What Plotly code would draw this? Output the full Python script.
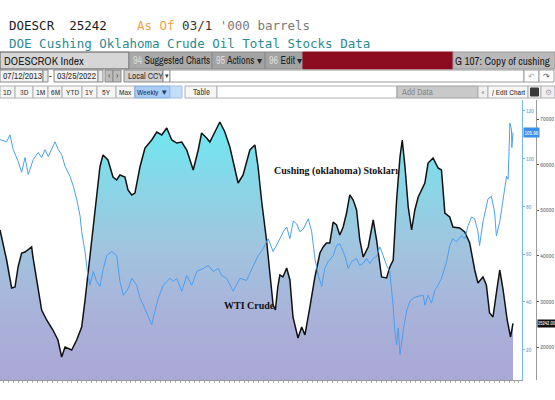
import plotly.graph_objects as go

# ---------------- data ----------------
stock_dates = [
    "2013-07-12", "2013-08-22", "2013-09-22", "2013-10-13", "2013-11-01", "2013-11-23", "2013-12-14",
    "2014-01-24", "2014-02-01", "2014-02-24", "2014-03-27", "2014-04-27", "2014-06-05", "2014-07-06",
    "2014-07-29", "2014-08-19", "2014-09-06", "2014-09-29", "2014-10-30", "2014-11-30", "2014-12-21",
    "2015-01-20", "2015-03-02", "2015-03-23", "2015-04-11", "2015-05-12", "2015-06-12", "2015-07-05",
    "2015-07-25", "2015-08-25", "2015-09-13", "2015-10-06", "2015-10-26", "2015-11-26", "2015-12-27",
    "2016-02-07", "2016-03-09", "2016-04-09", "2016-05-10", "2016-06-10", "2016-07-11", "2016-08-11",
    "2016-09-11", "2016-10-21", "2016-11-21", "2016-12-12", "2017-01-12", "2017-02-01", "2017-03-04",
    "2017-04-04", "2017-05-05", "2017-06-05", "2017-07-26", "2017-08-26", "2017-10-07", "2017-11-07",
    "2017-11-27", "2017-12-18", "2018-01-18", "2018-02-07", "2018-02-28", "2018-03-14", "2018-03-29",
    "2018-04-11", "2018-04-30", "2018-05-23", "2018-06-12", "2018-07-01", "2018-08-01", "2018-08-24",
    "2018-09-13", "2018-10-14", "2018-11-14", "2018-12-15", "2019-01-04", "2019-01-25", "2019-02-14",
    "2019-03-07", "2019-03-28", "2019-04-17", "2019-05-08", "2019-05-29", "2019-06-18", "2019-07-09",
    "2019-07-30", "2019-08-19", "2019-09-09", "2019-10-10", "2019-11-10", "2019-12-01", "2020-01-01",
    "2020-02-01", "2020-02-21", "2020-03-13", "2020-04-03", "2020-04-24", "2020-05-08", "2020-05-25",
    "2020-06-14", "2020-07-05", "2020-07-25", "2020-08-15", "2020-09-05", "2020-09-25", "2020-10-15",
    "2020-11-15", "2020-12-16", "2021-01-06", "2021-01-27", "2021-02-26", "2021-03-18", "2021-04-29",
    "2021-05-30", "2021-06-30", "2021-07-31", "2021-08-20", "2021-09-20", "2021-10-11", "2021-10-31",
    "2021-11-21", "2021-12-12", "2022-01-02", "2022-01-23", "2022-02-17", "2022-03-10", "2022-03-25",
]
stock_values = [
    45690, 39120, 32990, 33210, 37590, 40650, 40870,
    41970, 39780, 34740, 28170, 25980, 23790, 21600,
    17880, 20070, 19850, 19410, 21600, 24450, 30360,
    39780, 52260, 59490, 62120, 61020, 57300, 56640,
    57740, 57300, 54450, 53360, 53790, 59490, 63650,
    65400, 67150, 66500, 68030, 65400, 64740, 64960,
    63210, 58830, 63210, 66930, 65840, 64960, 67150,
    69340, 67150, 63870, 55980, 57740, 63210, 64310,
    59490, 52260, 43500, 36270, 29270, 28170, 33210,
    35840, 35400, 37370, 34740, 26640, 22040, 24450,
    22700, 28830, 35400, 40650, 41970, 42840, 42840,
    47440, 46790, 44600, 46350, 49410, 53360, 52260,
    50070, 43500, 39780, 41970, 47880, 43500, 35400,
    35180, 37590, 39120, 52260, 61680, 65400, 59490,
    50730, 45690, 50070, 52920, 54450, 55980, 60360,
    61460, 59270, 58830, 49410, 48540, 46350, 46130,
    45250, 42840, 36930, 34080, 35400, 33650, 27520,
    26640, 31890, 36930, 32550, 25980, 22260, 25242,
]

wti_dates = [
    "2013-07-12", "2013-08-22", "2013-09-12", "2013-10-02", "2013-11-02", "2013-11-23", "2013-12-14",
    "2014-01-03", "2014-02-03", "2014-03-06", "2014-03-27", "2014-04-17", "2014-05-07", "2014-06-07",
    "2014-06-18", "2014-07-08", "2014-07-29", "2014-08-19", "2014-09-19", "2014-10-09", "2014-10-30",
    "2014-11-20", "2014-11-30", "2014-12-21", "2015-01-04", "2015-01-20", "2015-02-10", "2015-03-02",
    "2015-03-23", "2015-04-13", "2015-05-04", "2015-06-04", "2015-07-05", "2015-07-25", "2015-08-15",
    "2015-09-15", "2015-10-06", "2015-11-06", "2015-11-26", "2015-12-17", "2016-01-17", "2016-02-07",
    "2016-02-27", "2016-03-19", "2016-04-19", "2016-05-30", "2016-06-20", "2016-07-11", "2016-08-11",
    "2016-09-11", "2016-10-12", "2016-11-12", "2016-12-22", "2017-01-22", "2017-02-22", "2017-03-25",
    "2017-04-15", "2017-05-16", "2017-06-26", "2017-08-06", "2017-09-16", "2017-10-27", "2017-11-27",
    "2017-12-28", "2018-01-28", "2018-02-28", "2018-03-21", "2018-04-11", "2018-05-02", "2018-05-23",
    "2018-06-12", "2018-07-03", "2018-07-24", "2018-08-13", "2018-09-03", "2018-10-04", "2018-10-25",
    "2018-11-14", "2018-12-05", "2018-12-26", "2019-01-14", "2019-02-04", "2019-03-07", "2019-03-28",
    "2019-04-17", "2019-05-18", "2019-06-08", "2019-06-29", "2019-07-30", "2019-08-19", "2019-09-09",
    "2019-09-30", "2019-10-20", "2019-11-10", "2019-12-01", "2019-12-21", "2020-01-11", "2020-02-01",
    "2020-02-21", "2020-03-02", "2020-03-12", "2020-03-23", "2020-04-03", "2020-04-13", "2020-04-24",
    "2020-05-14", "2020-06-04", "2020-06-25", "2020-07-15", "2020-08-15", "2020-09-15", "2020-09-25",
    "2020-10-15", "2020-11-05", "2020-11-26", "2020-12-16", "2021-01-06", "2021-02-07", "2021-02-26",
    "2021-03-18", "2021-04-08", "2021-05-09", "2021-05-30", "2021-06-20", "2021-07-11", "2021-07-31",
    "2021-08-20", "2021-08-30", "2021-09-20", "2021-10-21", "2021-11-11", "2021-12-01", "2021-12-12",
    "2022-01-02", "2022-01-23", "2022-02-13", "2022-02-23", "2022-03-06", "2022-03-16", "2022-03-18",
    "2022-03-25",
]
wti_values = [
    108.0, 107.1, 110.0, 103.8, 98.8, 94.3, 100.5,
    93.4, 99.7, 102.6, 100.5, 103.8, 100.9, 105.9,
    107.1, 103.8, 101.7, 96.8, 92.6, 88.5, 83.1,
    76.0, 69.4, 61.1, 52.8, 47.0, 52.8, 48.6,
    46.5, 54.0, 59.4, 61.1, 59.4, 48.6, 42.8,
    45.7, 49.9, 47.0, 41.6, 38.7, 33.3, 30.4,
    36.2, 41.6, 47.0, 49.9, 48.6, 49.9, 44.5,
    51.1, 47.0, 52.8, 54.0, 55.3, 52.8, 54.0,
    51.1, 49.9, 44.5, 49.9, 49.0, 55.3, 59.4,
    62.3, 66.5, 61.1, 63.6, 66.5, 69.4, 71.4,
    66.5, 73.9, 72.7, 69.4, 70.6, 74.8, 69.4,
    58.2, 51.1, 46.5, 54.0, 56.9, 59.4, 63.6,
    64.4, 59.4, 54.0, 56.9, 58.2, 55.3, 56.1,
    58.2, 56.1, 58.2, 59.0, 63.1, 59.4, 55.3,
    52.8, 47.0, 38.7, 27.9, 22.1, 29.1, 17.9,
    27.9, 36.2, 40.3, 41.6, 42.4, 42.8, 38.7,
    42.8, 39.5, 44.9, 47.0, 49.9, 56.9, 63.6,
    66.5, 65.2, 67.7, 66.5, 71.9, 75.6, 74.8,
    69.4, 63.6, 73.5, 83.1, 84.3, 77.7, 67.7,
    73.5, 83.1, 92.6, 91.4, 115.0, 112.1, 104.7,
    111.0,
]

stock_ticks = [20000, 30000, 40000, 50000, 60000, 70000]
wti_ticks = [20, 40, 60, 80, 100, 120]
stock_last_label = "25242.00"
wti_last_label = "105.96"

# ---------------- layout helpers (pixel -> paper) ----------------
W, H = 555, 400


def px(x):
    return x / W


def py(y):
    return 1 - y / H


shapes = []
annots = []
NARROW = "Archivo Narrow, Asap Condensed, Liberation Sans, sans-serif"


def rect(x0, y0, x1, y1, fill, line="#8a8a8a", lw=1):
    shapes.append(dict(type="rect", xref="paper", yref="paper",
                       x0=px(x0), x1=px(x1), y0=py(y1), y1=py(y0),
                       fillcolor=fill, line=dict(color=line, width=lw), layer="above"))


def label(x, y, s, size=9, color="#222", anchor="left", family=NARROW):
    annots.append(dict(xref="paper", yref="paper", x=px(x), y=py(y), text=s,
                       showarrow=False, xanchor=anchor, yanchor="middle",
                       font=dict(size=size, color=color, family=family)))


mono = "DejaVu Sans Mono, Liberation Mono, monospace"
label(7, 26, "DOESCR  25242    <span style='color:#f2a24a'>As Of</span> "
      "<span style='color:#333333'>03/1</span> <span style='color:#7a7a7a'>'000 barrels</span>",
      size=12.5, color="#1a1a1a", family=mono)
label(7, 43, "DOE Cushing Oklahoma Crude Oil Total Stocks Data", size=12.5, color="#2b8a90", family=mono)

# toolbar row 1
rect(0, 52, 129, 69, "#d6d6d6", "#555555")
label(2, 60.5, "DOESCROK Index", size=11.5)
rect(129, 52, 212, 69, "#a9a9a9", "#8a8a8a")
label(131, 60.5, "<span style='color:#dcdcdc'>94</span> Suggested Charts", size=10)
rect(212, 52, 265, 69, "#a3a3a3", "#8a8a8a")
label(214, 60.5, "<span style='color:#dcdcdc'>95</span> Actions ▾", size=10)
rect(265, 52, 303, 69, "#a3a3a3", "#8a8a8a")
label(267, 60.5, "<span style='color:#dcdcdc'>96</span> Edit ▾", size=10)
rect(303, 52, 453, 69, "#8b0d1f", "#8b0d1f")
rect(453, 52, 555, 69, "#b9b9b9", "#9a9a9a")
label(552, 60.5, "G 107: Copy of cushing", size=11, anchor="right")

# toolbar row 2
rect(0, 70, 43, 82, "#f4f4f4", "#8a8a8a")
label(1, 76, "07/12/2013", size=9.5, color="#333")
rect(43, 70, 48, 82, "#e8e8e8", "#8a8a8a")
label(50.5, 76, "-", size=9, color="#333", anchor="center")
rect(54, 70, 98, 82, "#f4f4f4", "#8a8a8a")
label(55, 76, "03/25/2022", size=9.5, color="#333")
rect(98, 70, 103, 82, "#e8e8e8", "#8a8a8a")
rect(105, 70, 113, 82, "#bdbdbd", "#8a8a8a")
label(109, 76, "‹", size=9, color="#555", anchor="center")
rect(113, 70, 121, 82, "#bdbdbd", "#8a8a8a")
label(117, 76, "›", size=9, color="#555", anchor="center")
rect(124, 70, 163, 82, "#d2d2d2", "#8a8a8a")
label(126, 76, "Local CCY", size=9, color="#333")
rect(163, 70, 170, 82, "#ffffff", "#8a8a8a")
label(166.5, 76, "▾", size=7, color="#333", anchor="center")
rect(170, 70, 524, 82, "#ffffff", "#9a9a9a")
rect(524, 70, 539, 82, "#ffffff", "#9a9a9a")
label(531.5, 76, "↶", size=8, color="#aaa", anchor="center")
rect(539, 70, 554, 82, "#ffffff", "#9a9a9a")
label(546.5, 76, "↷", size=8, color="#555", anchor="center")

# toolbar row 3
btns = [("1D", 0, 15), ("3D", 15, 33), ("1M", 33, 48), ("6M", 48, 62), ("YTD", 62, 82),
        ("1Y", 82, 97), ("5Y", 97, 116), ("Max", 116, 135)]
for t, a, b in btns:
    rect(a, 86, b, 98, "#f6f6f6", "#b0b0b0")
    label((a + b) / 2, 92, t, size=8, color="#444", anchor="center")
rect(135, 86, 170, 98, "#a8ccf4", "#7fa8d8")
label(152.5, 92, "Weekly ▼", size=8, color="#1c3c70", anchor="center")
rect(170, 86, 182, 98, "#c4def8", "#9cc0e8")
rect(185, 86, 217, 98, "#f6f6f6", "#b0b0b0")
label(201, 92, "Table", size=8.5, color="#444", anchor="center")
rect(217, 86, 397, 98, "#ffffff", "#b0b0b0")
rect(397, 86, 478, 98, "#c9c9c9", "#a0a0a0")
label(399, 92, "Add Data", size=9, color="#8a8a8a")
rect(478, 86, 488, 98, "#f0f0f0", "#b0b0b0")
label(483, 92, "«", size=8, color="#999", anchor="center")
rect(488, 86, 528, 98, "#f6f6f6", "#b0b0b0")
label(508, 92, "/ Edit Chart", size=8, color="#333", anchor="center")
rect(528, 86, 541, 98, "#f0f0f0", "#b0b0b0")
rect(530.5, 88, 538.5, 96, "#3a3a3a", "#3a3a3a")
rect(541, 86, 555, 98, "#f0f0f0", "#b0b0b0")
label(548, 92, "⚙", size=8, color="#aaa", anchor="center")

# chart annotations
serif = "Liberation Serif, Times New Roman, serif"
label(272, 171, "<b>Cushing (oklahoma) Stokları</b>", size=10, color="#111", family=serif)
label(222, 305, "<b>WTI Crude</b>", size=10, color="#111", family=serif)

# last value tags
annots.append(dict(xref="paper", yref="y", x=px(537), y=stock_values[-1], text=stock_last_label,
                   showarrow=False, xanchor="left", yanchor="middle", bgcolor="#111111",
                   borderpad=0, font=dict(size=5, color="#ffffff", family=NARROW)))
annots.append(dict(xref="paper", yref="y2", x=px(522.5), y=wti_values[-1], text=wti_last_label,
                   showarrow=False, xanchor="left", yanchor="middle", bgcolor="#3c8fe2",
                   borderpad=0.5, font=dict(size=5.5, color="#ffffff", family=NARROW)))

# ---------------- figure ----------------
fig = go.Figure()
fig.add_trace(go.Scatter(
    x=stock_dates, y=stock_values, mode="lines", yaxis="y",
    line=dict(color="#111111", width=1.5),
    fill="tozeroy",
    fillgradient=dict(type="vertical", start=13000, stop=72000,
                      colorscale=[[0, "#aaa8d4"], [0.25, "#a9b3da"], [0.5, "#a0c5df"],
                                  [0.75, "#86d8e8"], [1, "#66ecf3"]]),
    showlegend=False, hoverinfo="skip"))
fig.add_trace(go.Scatter(
    x=wti_dates, y=wti_values, mode="lines", yaxis="y2",
    line=dict(color="#4a9ff0", width=1), showlegend=False, hoverinfo="skip"))

x_end = "2022-05-18"
fig.update_layout(
    width=W, height=H,
    margin=dict(l=0, r=0, t=0, b=0),
    paper_bgcolor="#ffffff", plot_bgcolor="#ffffff",
    xaxis=dict(domain=[0, 521.7 / W], range=["2013-07-12", x_end], showgrid=False,
               showline=True, linecolor="#9a9a9a", linewidth=1, ticks="outside", ticklen=2,
               tickcolor="#b0b0b0", dtick="M1", tick0="2013-08-01", showticklabels=False,
               zeroline=False, fixedrange=True),
    yaxis=dict(domain=[20 / H, 300 / H], range=[12840, 74161], side="right", anchor="free",
               position=536 / W, tickvals=stock_ticks, ticktext=[str(v) for v in stock_ticks],
               showgrid=False, zeroline=False, showline=True, linecolor="#9a9a9a", linewidth=1,
               ticks="outside", ticklen=2, tickcolor="#555",
               tickfont=dict(size=6, color="#666666", family=NARROW),
               automargin=False),
    yaxis2=dict(overlaying="y", side="right", anchor="x", range=[7.3, 124.6],
                tickvals=wti_ticks, ticktext=[str(v) for v in wti_ticks],
                showgrid=False, zeroline=False, showline=True, linecolor="#74b6f2", linewidth=1,
                ticks="outside", ticklen=2, tickcolor="#74b6f2",
                tickfont=dict(size=6, color="#7a98b8", family=NARROW),
                automargin=False),
    shapes=shapes, annotations=annots,
)

fig.write_html("out.html", config={"displayModeBar": False},
               post_script="document.body.style.margin='0px';document.body.style.overflow='hidden';")
